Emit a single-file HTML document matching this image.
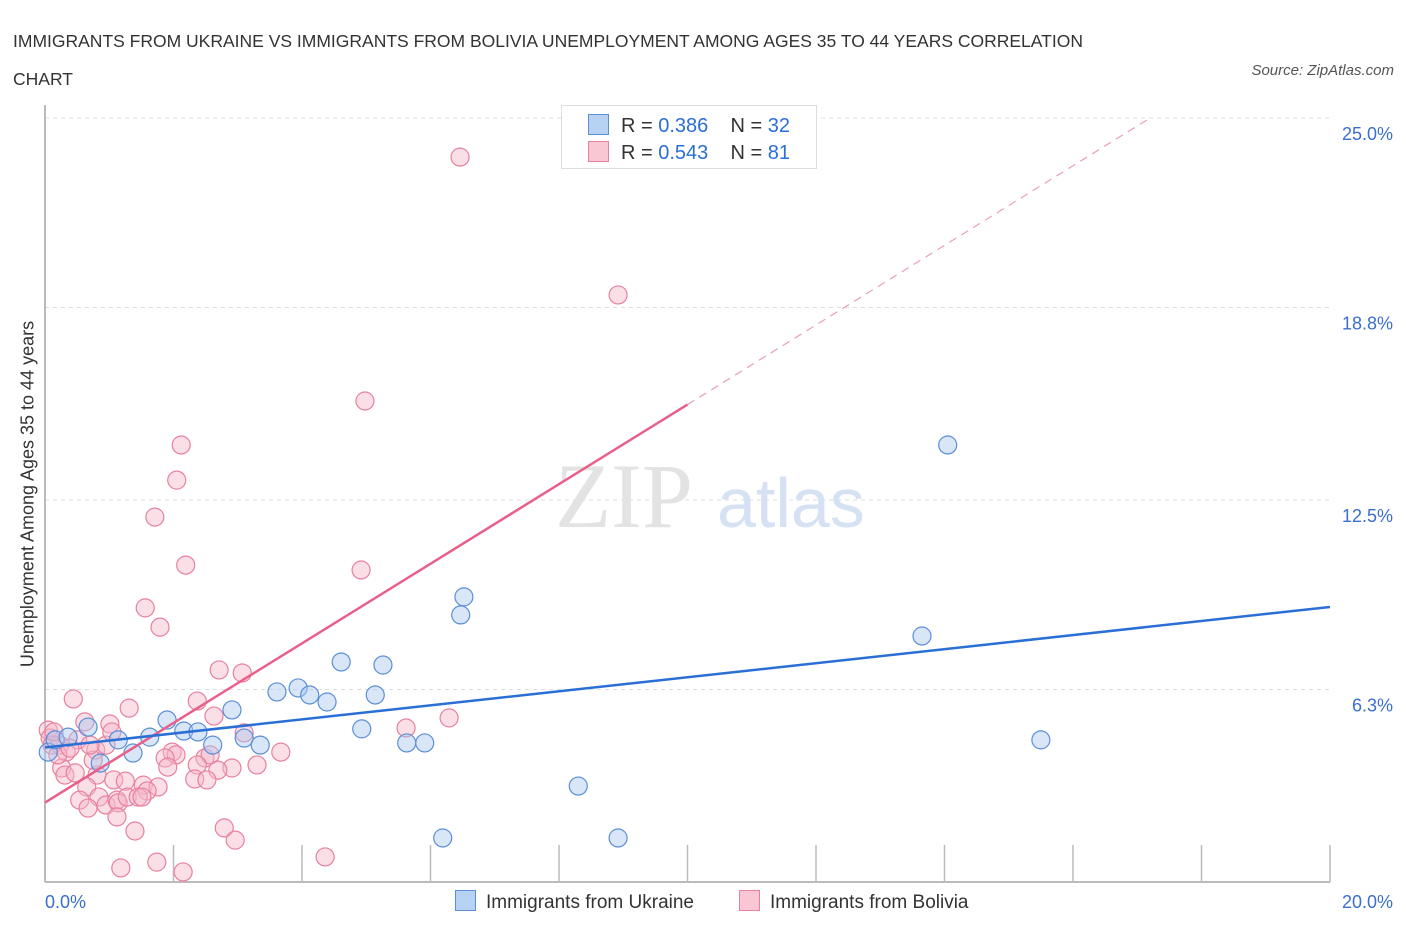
<!DOCTYPE html>
<html><head><meta charset="utf-8"><style>
body{margin:0;background:#fff;font-family:"Liberation Sans",sans-serif;}
#wrap{position:relative;width:1406px;height:930px;overflow:hidden}
.t{position:absolute;white-space:nowrap}
</style></head><body>
<div id="wrap">
<div class="t" style="left:13px;top:22px;font-size:17.5px;color:#333;line-height:38px">IMMIGRANTS FROM UKRAINE VS IMMIGRANTS FROM BOLIVIA UNEMPLOYMENT AMONG AGES 35 TO 44 YEARS CORRELATION<br>CHART</div>
<div class="t" style="right:12px;top:62px;font-size:15px;color:#555;font-style:italic">Source: ZipAtlas.com</div>
<svg id="svg" width="1406" height="930" style="position:absolute;left:0;top:0"></svg>
</div>
<script>
const yTicks=[25.0,18.8,12.5,6.3];
const yTickLabels=["25.0%","18.8%","12.5%","6.3%"];
const xTickLabels=["0.0%","20.0%"];
const ukrX=[0.05,0.16,0.36,0.67,0.86,1.14,1.37,1.63,1.90,2.16,2.38,2.61,2.91,3.10,3.35,3.61,3.94,4.12,4.39,4.61,4.93,5.14,5.26,5.63,5.91,6.19,6.47,6.52,8.30,8.92,13.65,14.05,15.50];
const ukrY=[4.25,4.65,4.74,5.07,3.89,4.65,4.22,4.74,5.30,4.94,4.91,4.48,5.63,4.71,4.48,6.22,6.35,6.12,5.89,7.20,5.01,6.12,7.10,4.55,4.55,1.44,8.74,9.33,3.14,1.44,8.05,14.30,4.65];
const bolX=[6.46,8.92,4.98,2.12,2.05,1.71,2.19,4.92,1.56,1.79,2.71,3.07,0.44,2.37,1.31,2.63,6.29,5.62,1.01,0.62,0.05,0.08,0.23,0.51,0.33,0.79,0.95,1.04,3.10,3.67,1.98,2.04,1.87,2.49,2.57,1.91,2.37,3.30,2.91,2.69,0.26,0.31,0.47,0.81,0.75,1.07,1.25,1.53,1.76,1.59,2.33,2.52,0.65,0.84,0.95,0.54,0.67,1.12,1.14,1.28,1.45,1.51,1.12,1.40,2.79,2.96,1.74,1.18,2.15,4.36,0.11,0.20,0.39,0.70,0.14];
const bolY=[23.72,19.21,15.74,14.30,13.15,11.94,10.37,10.21,8.97,8.34,6.94,6.84,5.99,5.92,5.69,5.43,5.37,5.04,5.17,5.24,4.97,4.71,4.48,4.65,4.25,4.32,4.48,4.91,4.88,4.25,4.25,4.16,4.06,4.06,4.16,3.76,3.83,3.83,3.73,3.66,3.73,3.50,3.57,3.50,3.99,3.34,3.30,3.17,3.11,2.98,3.37,3.34,3.11,2.78,2.52,2.68,2.42,2.68,2.59,2.78,2.78,2.78,2.13,1.67,1.77,1.37,0.65,0.46,0.33,0.82,4.48,4.16,4.38,4.48,4.91];
const ukrLine=[4.4,9.0];   // y at x=0 and x=20
const bolLine=[2.6,25.0];  // y at x=0 and x where it reaches 25
const bolLineX=[0,10,17.2];// start, solid end, dashed end
const X=v=>45+v*64.25, Y=v=>882-v*30.56;
const s=document.getElementById('svg'),NS='http://www.w3.org/2000/svg';
function mk(t,a){const e=document.createElementNS(NS,t);for(const k in a)e.setAttribute(k,a[k]);s.appendChild(e);return e;}
// gridlines
yTicks.forEach((v,i)=>{
 const g=mk('line',{x1:45,x2:1330,y1:Y(v),y2:Y(v),stroke:'#ddd','stroke-dasharray':'4,4'});
 
 
 const t=mk('text',{x:1393,y:Y(v)+22,'text-anchor':'end','font-size':18,fill:'#3a6fd0'});
 t.textContent=yTickLabels[i];
 
 
});
// axes
const ax=mk('line',{x1:45,x2:1330,y1:882,y2:882,stroke:'#bbb','stroke-width':2});


const ay=mk('line',{x1:45,x2:45,y1:105,y2:882,stroke:'#bbb','stroke-width':2});


for(let i=1;i<=10;i++){const tk=mk('line',{x1:X(i*2),x2:X(i*2),y1:845,y2:882,stroke:'#bbb','stroke-width':1.5});
 
 }
[[0,'start',45],[1,'end',1393]].forEach(([i,a,x])=>{const t=mk('text',{x:x,y:908,'text-anchor':a,'font-size':18,fill:'#3a6fd0'});t.textContent=xTickLabels[i];
 
 });
// watermark
const w=mk('text',{x:555,y:527,'font-size':92,fill:'#e3e3e3','font-family':'Liberation Serif,serif'});w.textContent='ZIP';


const w2=mk('text',{x:717,y:527,'font-size':70,fill:'#d6e2f3'});w2.textContent='atlas';


// points
function pts(xs,ys,f,st,n){xs.forEach((x,i)=>{const c=mk('circle',{cx:X(x),cy:Y(ys[i]),r:9,fill:f,stroke:st,'stroke-width':1.2,'fill-opacity':0.45});
 
 });}
pts(bolX,bolY,'#f5b8c9','#e8809f','bolivia-point');
pts(ukrX,ukrY,'#a8c8f0','#5a8fd8','ukraine-point');
// trend lines
const bl=v=>bolLine[0]+(bolLine[1]-bolLine[0])*v/bolLineX[2];
const l1=mk('line',{x1:X(bolLineX[0]),y1:Y(bl(bolLineX[0])),x2:X(bolLineX[1]),y2:Y(bl(bolLineX[1])),stroke:'#e8608a','stroke-width':2.5});


const l2=mk('line',{x1:X(bolLineX[1]),y1:Y(bl(bolLineX[1])),x2:X(bolLineX[2]),y2:Y(bl(bolLineX[2])),stroke:'#e8a0b6','stroke-width':1.2,'stroke-dasharray':'8,6'});


const l3=mk('line',{x1:X(0),y1:Y(ukrLine[0]),x2:X(20),y2:Y(ukrLine[1]),stroke:'#2a6fd6','stroke-width':2.5});


</script>
<div class="t" style="left:28px;top:494px;transform:translate(-50%,-50%) rotate(-90deg);font-size:18px;color:#333">Unemployment Among Ages 35 to 44 years</div>
<div style="position:absolute;left:561px;top:105px;width:254px;height:62px;border:1px solid #ddd;background:#fff;font-size:20px;color:#333">
 <div class="t" style="left:26px;top:8px"><span style="display:inline-block;width:19px;height:19px;background:#b8d2f4;border:1px solid #5a8fd8;vertical-align:-3px;margin-right:12px"></span>R = <span style="color:#2a6fd6">0.386</span>&nbsp;&nbsp;&nbsp; N = <span style="color:#2a6fd6">32</span></div>
 <div class="t" style="left:26px;top:35px"><span style="display:inline-block;width:19px;height:19px;background:#f9c6d4;border:1px solid #e8809f;vertical-align:-3px;margin-right:12px"></span>R = <span style="color:#2a6fd6">0.543</span>&nbsp;&nbsp;&nbsp; N = <span style="color:#2a6fd6">81</span></div>
</div>
<div class="t" style="left:455px;top:890px;font-size:19px;color:#333"><span style="display:inline-block;width:19px;height:19px;background:#b8d2f4;border:1px solid #5a8fd8;vertical-align:-3px;margin-right:10px"></span>Immigrants from Ukraine</div>
<div class="t" style="left:739px;top:890px;font-size:19px;color:#333"><span style="display:inline-block;width:19px;height:19px;background:#f9c6d4;border:1px solid #e8809f;vertical-align:-3px;margin-right:10px"></span>Immigrants from Bolivia</div>
</body></html>
